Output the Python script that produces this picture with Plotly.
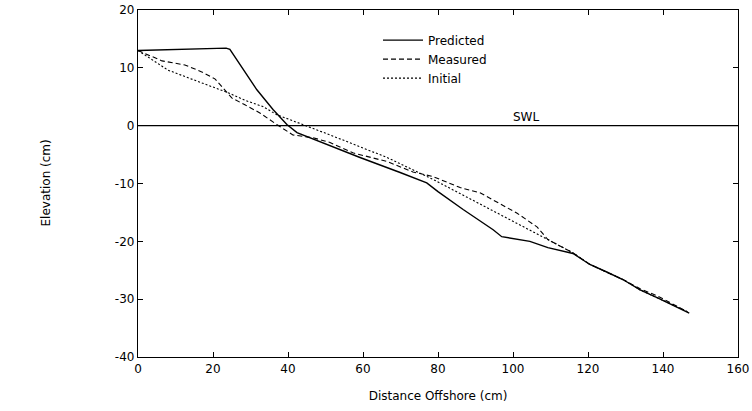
import plotly.graph_objects as go

pred_x = [0, 23.5, 24.5, 28.5, 31.7, 36, 39.7, 42.4, 48.5, 59.2, 69.9, 77, 80, 86.7, 94.7, 97, 104.5, 109.3, 116, 120.5, 125, 129.3, 133.9, 138.7, 147]
pred_y = [13, 13.4, 13.2, 9.2, 6.2, 2.8, 0.2, -1.2, -2.8, -5.5, -8.1, -9.9, -11.4, -14.5, -18, -19.2, -20, -21.1, -22.1, -24, -25.3, -26.6, -28.4, -29.8, -32.4]

meas_x = [0, 6.4, 12.5, 17, 20.5, 25, 28.5, 32.5, 37, 41.3, 46.7, 51.2, 57.3, 66.4, 73.3, 78.7, 85.9, 91.2, 101, 106.4, 109.3, 116, 120.5, 125, 129.3, 133.9, 138.7, 146]
meas_y = [13, 11.2, 10.5, 9.3, 8.1, 4.8, 3.6, 2.2, 0.2, -1.6, -2.1, -2.9, -4.7, -6.2, -8, -8.8, -10.7, -11.6, -15.1, -17.5, -19.7, -22, -24, -25.3, -26.6, -28.2, -29.5, -32]

init_x = [0, 8, 17, 24, 28.5, 33.3, 37, 44, 51.2, 66.4, 78.7, 109.3, 116, 120.5, 125, 129.3, 133.9, 138.7, 147]
init_y = [13, 9.6, 7.4, 5.7, 4.4, 3.3, 1.9, 0.2, -1.6, -5.5, -9.3, -19.7, -22, -24, -25.3, -26.6, -28.4, -29.8, -32.3]

swl_x = [0, 160]
swl_y = [0, 0]

x_ticks = [0, 20, 40, 60, 80, 100, 120, 140, 160]
y_ticks = [-40, -30, -20, -10, 0, 10, 20]

FONT = "DejaVu Sans"

fig = go.Figure()
fig.add_trace(go.Scatter(x=swl_x, y=swl_y, mode="lines", line=dict(color="black", width=1.2),
                         showlegend=False, hoverinfo="skip"))
fig.add_trace(go.Scatter(x=pred_x, y=pred_y, mode="lines", name="Predicted",
                         line=dict(color="black", width=1.4)))
fig.add_trace(go.Scatter(x=meas_x, y=meas_y, mode="lines", name="Measured",
                         line=dict(color="black", width=1.1, dash="5px,3px")))
fig.add_trace(go.Scatter(x=init_x, y=init_y, mode="lines", name="Initial",
                         line=dict(color="black", width=1.1, dash="2px,2px")))

fig.add_annotation(x=103.5, y=0, text="SWL", showarrow=False, xanchor="center", yanchor="bottom",
                   font=dict(family=FONT, size=12, color="black"))
fig.add_annotation(xref="paper", yref="paper", x=-0.155, y=0.5, text="Elevation (cm)",
                   textangle=-90, showarrow=False, xanchor="center", yanchor="middle",
                   font=dict(family=FONT, size=12, color="black"))

axis_common = dict(showgrid=False, zeroline=False, showline=True, linecolor="black", linewidth=1.3,
                   mirror="ticks", ticks="inside", ticklen=5, tickcolor="black", tickwidth=1.2,
                   tickfont=dict(family=FONT, size=12, color="black"), automargin=False,
                   ticklabeloverflow="allow")

fig.update_xaxes(range=[0, 160], tickvals=x_ticks, ticktext=[str(v) for v in x_ticks],
                 title=dict(text="Distance Offshore (cm)", font=dict(family=FONT, size=12, color="black"),
                            standoff=17),
                 **axis_common)
fig.update_yaxes(range=[-40, 20], tickvals=y_ticks, ticktext=[str(v) for v in y_ticks],
                 **axis_common)

fig.update_layout(
    width=752, height=411,
    margin=dict(l=138, r=14, t=10, b=54),
    plot_bgcolor="white", paper_bgcolor="white",
    font=dict(family=FONT, size=12, color="black"),
    legend=dict(x=0.40, y=0.955, xanchor="left", yanchor="top", bgcolor="rgba(0,0,0,0)",
                font=dict(family=FONT, size=12, color="black"), tracegroupgap=0, itemwidth=40),
)

fig.write_html("out.html", config={"displayModeBar": False},
               post_script="document.body.style.margin='0px';document.body.style.overflow='hidden';")
